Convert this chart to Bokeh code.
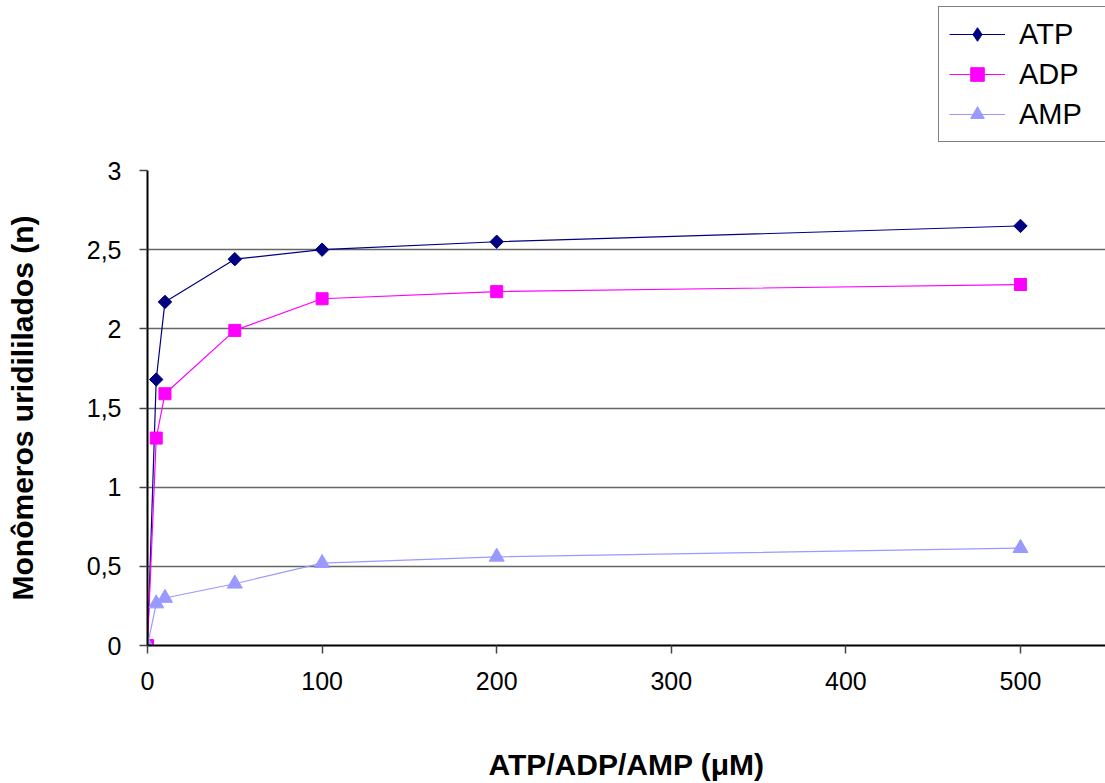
import math
from bokeh.plotting import figure
from bokeh.layouts import column
from bokeh.models import FixedTicker, CustomJSTickFormatter, Legend, LegendItem
from bokeh.embed import file_html
from bokeh.resources import INLINE

conc = [0, 5, 10, 50, 100, 200, 500]
atp = [0, 1.68, 2.17, 2.44, 2.50, 2.55, 2.65]
adp = [0, 1.31, 1.59, 1.99, 2.19, 2.235, 2.28]
amp = [0, 0.265, 0.30, 0.39, 0.52, 0.56, 0.615]
series_names = ["ATP", "ADP", "AMP"]
x_ticks = [0, 100, 200, 300, 400, 500]
y_ticks = [0, 0.5, 1, 1.5, 2, 2.5, 3]

FONT = "Liberation Sans"
colors = ["#000080", "#FF00FF", "#9999FF"]
ys = [atp, adp, amp]

# ---------------- main chart ----------------
p = figure(width=1105, height=633, x_range=(0, 548.7), y_range=(0, 3),
           output_backend="svg", toolbar_location=None,
           min_border_left=147, min_border_top=20, min_border_bottom=138,
           min_border_right=0)
p.outline_line_color = None
p.background_fill_color = "white"
p.border_fill_color = "white"

p.xgrid.grid_line_color = None
p.ygrid.ticker = FixedTicker(ticks=y_ticks)
p.ygrid.grid_line_color = "#666666"
p.ygrid.grid_line_width = 1.5

p.xaxis.ticker = FixedTicker(ticks=x_ticks)
p.yaxis.ticker = FixedTicker(ticks=y_ticks)
p.yaxis.formatter = CustomJSTickFormatter(code="return tick.toString().replace('.', ',');")
for ax in (p.xaxis[0], p.yaxis[0]):
    ax.axis_line_color = "black"
    ax.axis_line_width = 2
    ax.major_tick_line_color = "#444444"
    ax.major_tick_line_width = 1.5
    ax.major_tick_in = 0
    ax.major_tick_out = 8
    ax.minor_tick_line_color = None
    ax.major_label_text_font = FONT
    ax.major_label_text_font_size = "25px"
    ax.major_label_text_color = "black"
    ax.axis_label_text_font = FONT
    ax.axis_label_text_font_size = "30px"
    ax.axis_label_text_font_style = "bold"
    ax.axis_label_text_color = "black"

p.xaxis.axis_label = "ATP/ADP/AMP (μM)"
p.xaxis.major_label_standoff = 18
p.xaxis.axis_label_standoff = 55
p.yaxis.axis_label = "Monômeros uridililados (n)"
p.yaxis.major_label_standoff = 18
p.yaxis.axis_label_standoff = 45

for name, yv, c in zip(series_names, ys, colors):
    p.line(conc, yv, line_color=c, line_width=1.2)
    if name == "ATP":
        p.scatter(conc, yv, marker="square", angle=math.pi / 4, size=9.5,
                  fill_color=c, line_color=c)
    elif name == "ADP":
        p.scatter(conc, yv, marker="square", size=12, fill_color=c, line_color=c)
    else:
        p.scatter(conc, yv, marker="triangle", size=15, fill_color=c, line_color=c)

# ---------------- legend strip (series drawn off-range, only the legend shows) ----------------
lg = figure(width=1105, height=150, x_range=(-1000, -999), y_range=(-1000, -999),
            output_backend="svg", toolbar_location=None,
            x_axis_type=None, y_axis_type=None,
            min_border_left=0, min_border_right=0, min_border_top=0, min_border_bottom=0)
lg.outline_line_color = None
lg.xgrid.visible = False
lg.ygrid.visible = False
lg.background_fill_color = "white"
lg.border_fill_color = "white"

items = []
markers = {"ATP": ("diamond", 19), "ADP": ("square", 13), "AMP": ("triangle", 16)}
for name, yv, c in zip(series_names, ys, colors):
    ln = lg.line(conc, yv, line_color=c, line_width=1.2)
    mk, sz = markers[name]
    sc = lg.scatter(conc, yv, marker=mk, size=sz, fill_color=c, line_color=c)
    items.append(LegendItem(label=name, renderers=[ln, sc]))

legend = Legend(items=items, location=(791, 8))
legend.border_line_color = "black"
legend.border_line_width = 1.5
legend.background_fill_color = "white"
legend.background_fill_alpha = 1
legend.label_text_font = FONT
legend.label_text_font_size = "29px"
legend.label_text_color = "black"
legend.glyph_width = 56
legend.glyph_height = 34
legend.label_height = 34
legend.label_width = 115
legend.spacing = 6
legend.padding = 10
legend.margin = 0
legend.label_standoff = 14
lg.add_layout(legend, "center")

layout = column(lg, p, spacing=0)
open("out.html", "w").write(file_html(layout, INLINE))
